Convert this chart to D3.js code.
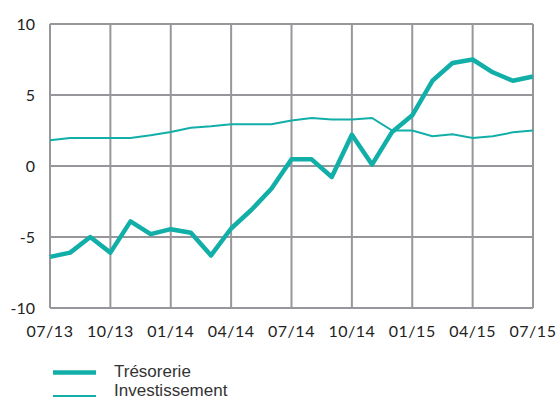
<!DOCTYPE html>
<html>
<head>
<meta charset="utf-8">
<script src="https://cdn.jsdelivr.net/npm/d3@7"></script>
<style>
  body { margin: 0; background: #fff; }
  svg text { font-family: Lato, "Open Sans", sans-serif; }
</style>
</head>
<body>
<svg id="chart" width="557" height="401"></svg>
<script>
// monthly values, 07/13 .. 07/15
const months = ["07/13","08/13","09/13","10/13","11/13","12/13","01/14","02/14","03/14","04/14","05/14","06/14",
                "07/14","08/14","09/14","10/14","11/14","12/14","01/15","02/15","03/15","04/15","05/15","06/15","07/15"];
const tresorerie = [-6.4,-6.1,-5.0,-6.1,-3.9,-4.8,-4.45,-4.7,-6.3,-4.4,-3.1,-1.6,
                    0.47,0.47,-0.77,2.2,0.1,2.4,3.57,6.0,7.25,7.5,6.6,6.0,6.3];
const investissement = [1.81,1.97,1.97,1.97,1.97,2.16,2.4,2.7,2.8,2.94,2.94,2.94,
                        3.2,3.38,3.27,3.27,3.38,2.5,2.5,2.09,2.23,1.97,2.09,2.37,2.5];
const xTicks = ["07/13","10/13","01/14","04/14","07/14","10/14","01/15","04/15","07/15"];
const yTicks = [-10,-5,0,5,10];

const svg = d3.select("#chart");
const plotLeft = 50, plotRight = 533, plotTop = 24, plotBottom = 308;
const teal = "#12aea8";
const gridColor = "#97979b";

const x = d3.scalePoint().domain(months).range([plotLeft, plotRight]);
const y = d3.scaleLinear().domain([-10, 10]).range([plotBottom, plotTop]);

// vertical grid
svg.append("g").selectAll("line").data(xTicks).join("line")
    .attr("x1", d => x(d)).attr("x2", d => x(d))
    .attr("y1", plotTop).attr("y2", plotBottom)
    .attr("stroke", gridColor).attr("stroke-width", 2);

// horizontal grid
svg.append("g").selectAll("line").data(yTicks).join("line")
    .attr("x1", plotLeft).attr("x2", plotRight)
    .attr("y1", d => y(d)).attr("y2", d => y(d))
    .attr("stroke", gridColor).attr("stroke-width", 2);

// y labels
svg.append("g").selectAll("text").data(yTicks).join("text")
    .attr("x", 35).attr("y", d => y(d) + 6)
    .attr("text-anchor", "end")
    .attr("font-size", 16).attr("fill", "#222")
    .text(d => d);

// x labels
svg.append("g").selectAll("text").data(xTicks).join("text")
    .attr("x", d => x(d)).attr("y", 337)
    .attr("text-anchor", "middle")
    .attr("font-size", 16).attr("fill", "#222")
    .attr("letter-spacing", 0.5)
    .text(d => d);

const line = d3.line().x((d, i) => x(months[i])).y(d => y(d));

svg.append("path").datum(investissement)
    .attr("d", line).attr("fill", "none")
    .attr("stroke", teal).attr("stroke-width", 2);

svg.append("path").datum(tresorerie)
    .attr("d", line).attr("fill", "none")
    .attr("stroke", teal).attr("stroke-width", 4.5)
    .attr("stroke-linejoin", "round");

// legend
const legend = [
    {name: "Trésorerie", w: 4.5, y: 372.5, ty: 377},
    {name: "Investissement", w: 2, y: 396, ty: 396}
];
const lg = svg.append("g");
lg.selectAll("line").data(legend).join("line")
    .attr("x1", 53).attr("x2", 96)
    .attr("y1", d => d.y).attr("y2", d => d.y)
    .attr("stroke", teal).attr("stroke-width", d => d.w);
lg.selectAll("text").data(legend).join("text")
    .attr("x", 114).attr("y", d => d.ty)
    .attr("font-size", 17).attr("fill", "#333")
    .style("font-family", "'Liberation Sans', Arial, sans-serif")
    .text(d => d.name);
</script>
</body>
</html>
